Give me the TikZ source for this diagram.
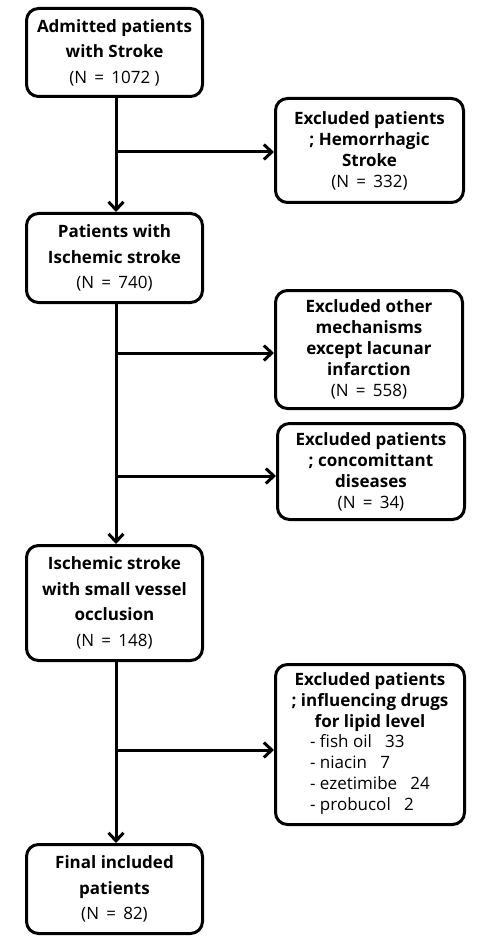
\documentclass[tikz,border=0pt]{standalone}
\usepackage{fontspec}
\setmainfont{Open Sans}
\usetikzlibrary{arrows.meta}

\tikzset{
    box/.style={draw, line width=3pt, rounded corners=12pt, align=center,
        inner sep=2pt, font=\fontsize{17}{25.5}\selectfont},
    exclbox/.style={box, font=\fontsize{17}{21}\selectfont},
    arr/.style={line width=3pt, -{Straight Barb[length=8pt, width=15pt, line width=3pt]}}
}

\begin{document}
\begin{tikzpicture}[x=1pt, y=-1pt]
    \useasboundingbox (0,0) rectangle (488,941);

    % main column
    \node[box, minimum width=176pt, minimum height=88pt] (admit) at (114.5,52.5)
        {\textbf{Admitted patients}\\ \textbf{with Stroke}\\ (N \,=\, 1072 )};
    \node[box, minimum width=176pt, minimum height=89pt] (ischemic) at (114.5,258)
        {\textbf{Patients with}\\ \textbf{Ischemic stroke}\\ (N \,=\, 740)};
    \node[box, minimum width=176pt, minimum height=115pt] (svo) at (114.5,603)
        {\textbf{Ischemic stroke}\\ \textbf{with small vessel}\\ \textbf{occlusion}\\ (N \,=\, 148)};
    \node[box, minimum width=176pt, minimum height=89pt] (final) at (114.5,889)
        {\textbf{Final included}\\ \textbf{patients}\\ (N \,=\, 82)};

    % excluded boxes
    \node[exclbox, minimum width=188pt, minimum height=104pt] (hemo) at (369.5,150.5)
        {\textbf{Excluded patients}\\ \textbf{; Hemorrhagic}\\ \textbf{Stroke}\\ (N \,=\, 332)};
    \node[exclbox, minimum width=187pt, minimum height=118pt] (mech) at (369,349.5)
        {\textbf{Excluded other}\\ \textbf{mechanisms}\\ \textbf{except lacunar}\\ \textbf{infarction}\\ (N \,=\, 558)};
    \node[exclbox, minimum width=187pt, minimum height=96pt] (disease) at (371,471.5)
        {\textbf{Excluded patients}\\ \textbf{; concomittant}\\ \textbf{diseases}\\ (N \,=\, 34)};
    \node[exclbox, minimum width=189pt, minimum height=160pt] (drugs) at (370,744.5)
        {\textbf{Excluded patients}\\ \textbf{; influencing drugs}\\ \textbf{for lipid level}\\
         \begin{tabular}{@{}l@{}}
         - fish oil~~ 33\\ - niacin~~ 7\\ - ezetimibe~~ 24\\ - probucol~~ 2
         \end{tabular}};

    % branch points
    \coordinate (b1) at (116,152);
    \coordinate (b2) at (116,353);
    \coordinate (b3) at (116,476);
    \coordinate (b4) at (116,750);

    \draw[arr] (admit.south -| b1) -- (ischemic.north -| b1);
    \draw[arr] (ischemic.south -| b1) -- (svo.north -| b1);
    \draw[arr] (svo.south -| b1) -- (final.north -| b1);

    \draw[arr] (b1) -- (b1 -| hemo.west);
    \draw[arr] (b2) -- (b2 -| mech.west);
    \draw[arr] (b3) -- (b3 -| disease.west);
    \draw[arr] (b4) -- (b4 -| drugs.west);
\end{tikzpicture}
\end{document}
